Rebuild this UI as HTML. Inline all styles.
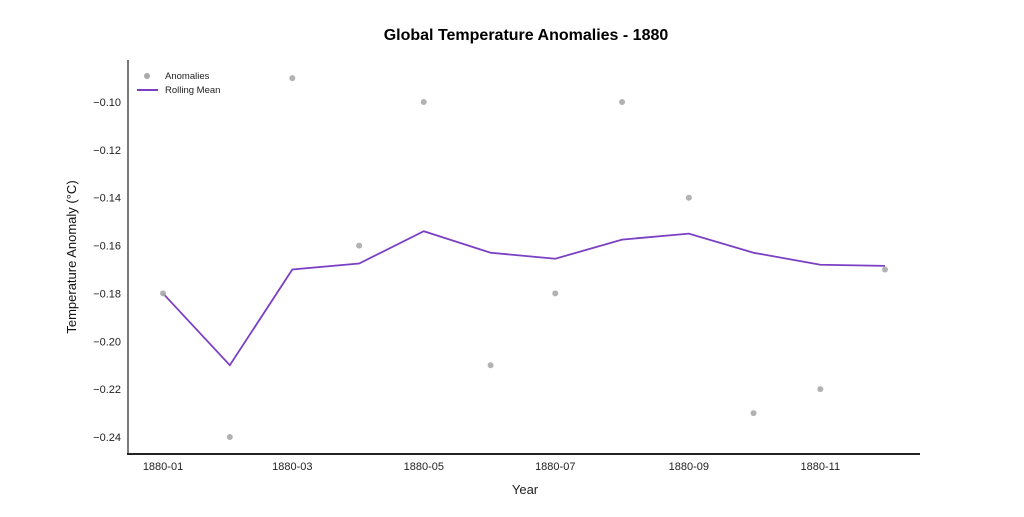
<!DOCTYPE html>
<html><head><meta charset="utf-8"><style>
body{margin:0;background:#fff;width:1024px;height:512px;overflow:hidden;font-family:"Liberation Sans",sans-serif}
</style></head><body>
<svg id="chart" width="1024" height="512" xmlns="http://www.w3.org/2000/svg" font-family="Liberation Sans, sans-serif">
<text x="526" y="40" text-anchor="middle" font-size="16" font-weight="bold" fill="#000">Global Temperature Anomalies - 1880</text>
<g id="grid"></g>
<line x1="128" y1="60" x2="128" y2="455" stroke="#222" stroke-width="1.2"/>
<line x1="127" y1="454" x2="920" y2="454" stroke="#222" stroke-width="2"/>
<text x="525" y="494" text-anchor="middle" font-size="13" fill="#222">Year</text>
<text transform="translate(76,257) rotate(-90)" text-anchor="middle" font-size="13" fill="#111">Temperature Anomaly (°C)</text>
<g>
<circle cx="147" cy="76" r="3" fill="#aaa"/>
<text x="165" y="79" font-size="9.5" fill="#222">Anomalies</text>
<line x1="137" y1="90" x2="158" y2="90" stroke="#7b3fc4" stroke-width="2"/>
<text x="165" y="93" font-size="9.5" fill="#222">Rolling Mean</text>
</g>
<g id="marks"></g>
</svg>
<script>
const months = ["1880-01","1880-02","1880-03","1880-04","1880-05","1880-06","1880-07","1880-08","1880-09","1880-10","1880-11","1880-12"];
const anomalies = [-0.18,-0.24,-0.09,-0.16,-0.10,-0.21,-0.18,-0.10,-0.14,-0.23,-0.22,-0.17];
const rollingMean = [-0.18,-0.21,-0.17,-0.1675,-0.154,-0.163,-0.1655,-0.1575,-0.155,-0.163,-0.168,-0.1685];
const yTicks = [-0.10,-0.12,-0.14,-0.16,-0.18,-0.20,-0.22,-0.24];
const xTickLabels = ["1880-01","1880-03","1880-05","1880-07","1880-09","1880-11"];

const NS="http://www.w3.org/2000/svg";
const d0=Date.UTC(1880,0,1), dEnd=Date.UTC(1880,11,1);
function xs(m){const [y,mo]=m.split("-").map(Number);const d=Date.UTC(y,mo-1,1);return 163+(d-d0)/(dEnd-d0)*(885-163);}
function ys(v){return 102+(v-(-0.10))/(-0.14)*(437-102);}
const svg=document.getElementById("chart");
const g=document.getElementById("marks");
yTicks.forEach(v=>{
  const t=document.createElementNS(NS,"text");
  
  
  t.setAttribute("x",121);t.setAttribute("y",ys(v)+4);t.setAttribute("text-anchor","end");
  t.setAttribute("font-size","11");t.setAttribute("fill","#222");
  t.textContent="\u2212"+Math.abs(v).toFixed(2);svg.appendChild(t);
});
xTickLabels.forEach(m=>{
  const t=document.createElementNS(NS,"text");
  
  
  t.setAttribute("x",xs(m));t.setAttribute("y",470);t.setAttribute("text-anchor","middle");
  t.setAttribute("font-size","11");t.setAttribute("fill","#222");
  t.textContent=m;svg.appendChild(t);
});
const p=document.createElementNS(NS,"polyline");


p.setAttribute("points",months.map((m,i)=>xs(m)+","+ys(rollingMean[i])).join(" "));
p.setAttribute("fill","none");p.setAttribute("stroke","#7b3fc4");p.setAttribute("stroke-width","1.8");
g.appendChild(p);
months.forEach((m,i)=>{
  const c=document.createElementNS(NS,"circle");
  
  
  c.setAttribute("cx",xs(m));c.setAttribute("cy",ys(anomalies[i]));c.setAttribute("r",3);
  c.setAttribute("fill","#aaa");c.setAttribute("fill-opacity","0.9");
  g.appendChild(c);
});
</script>
</body></html>
